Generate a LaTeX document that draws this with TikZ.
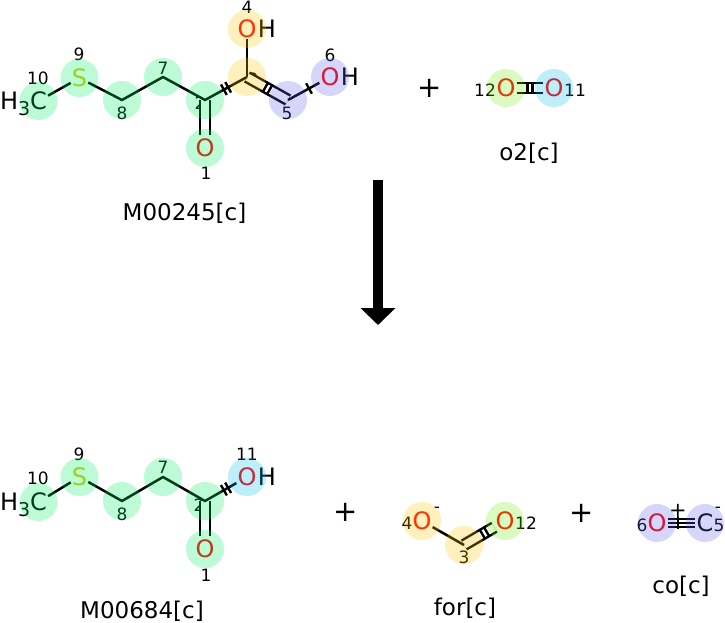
\documentclass[tikz,border=0pt]{standalone}
\usepackage{fontspec}
\setmainfont{DejaVu Sans}
\usetikzlibrary{arrows.meta,calc}
\definecolor{hgreen}{RGB}{0,236,96}
\definecolor{hyellow}{RGB}{255,196,0}
\definecolor{hlav}{RGB}{96,96,236}
\definecolor{hblue}{RGB}{0,188,236}
\definecolor{hlime}{RGB}{116,236,16}
\definecolor{ored}{RGB}{255,0,0}
\definecolor{sulf}{RGB}{204,204,0}
\newcommand\tickI{\rule{2.4pt}{12pt}}
\newcommand\tickII{\rule{2.4pt}{12pt}\hspace{2.5pt}\rule{2.4pt}{12pt}}
\newcommand\subthree{\raisebox{-6pt}{\fontsize{19}{19}\selectfont 3}}
\tikzset{
 atom/.style={inner sep=1pt, font=\fontsize{24}{24}\selectfont},
 oatom/.style={atom, text=ored},
 hyd/.style={anchor=base west, inner sep=0pt, font=\fontsize{24}{24}\selectfont},
 idx/.style={inner sep=0pt, font=\fontsize{17}{17}\selectfont},
 molname/.style={anchor=base, inner sep=0pt, font=\fontsize{23}{23}\selectfont},
 plussign/.style={inner sep=0pt, font=\fontsize{29}{29}\selectfont},
 charge/.style={inner sep=0pt, font=\fontsize{21}{21}\selectfont},
 bond/.style={line width=2.5pt, line join=round},
 dbond/.style={line width=2.5pt, double, double distance=7.5pt},
 tbond/.style={line width=2pt, double, double distance=5.4pt},
 tick/.style={sloped, inner sep=0pt, anchor=center},
 hl/.style={opacity=0.26},
}
\begin{document}
\begin{tikzpicture}[x=1pt,y=-1pt]
\useasboundingbox (0,0) rectangle (725,623);
% ================= top reactant M00245 =================
\node[idx] at (38,78) {10};
\node[idx] at (79,54) {9};
\node[idx] at (122,113) {8};
\node[idx] at (163,68) {7};
\node[idx] at (200,103) {2};
\node[idx] at (206,173) {1};
\node[idx] at (253,79) {3};
\node[idx] at (247,7) {4};
\node[idx] at (287,113) {5};
\node[idx] at (330,55) {6};
\node[atom] (tc10) at (38.5,101) {C};
\node[hyd, anchor=base east, xshift=1.5pt] (th10) at (tc10.base west) {H\subthree};
\node[oatom, text=sulf] (ts9) at (79.5,78) {S};
\coordinate (tc8) at (122,100);
\coordinate (tc7) at (163,77);
\coordinate (tc2) at (205,100);
\node[oatom] (to1) at (205,148) {O};
\coordinate (tc3) at (247,77);
\node[oatom] (to4) at (247,29) {O};
\node[hyd] (th4) at (to4.base east) {H};
\coordinate (tc5) at (288,100);
\node[oatom] (to6) at (330,77) {O};
\node[hyd] (th6) at (to6.base east) {H};
\draw[dbond, shorten >=3pt] (tc2) -- (to1);
\draw[dbond] (tc3) -- (tc5);
\draw[bond] (tc10) -- (ts9);
\draw[bond] (ts9) -- (tc8) -- (tc7) -- (tc2) -- (tc3);
\draw[bond] (tc3) -- (to4);
\draw[bond] (tc5) -- (to6);
\path (tc2) -- node[tick]{\tickII} (tc3);
\path (tc3) -- node[tick]{\tickII} (tc5);
\path (tc5) -- node[tick]{\tickI} (to6.center);
\node[molname] (tname) at (184.5,220) {M00245[c]};
\foreach \p in {tc10,ts9,tc8,tc7,tc2,to1} \fill[hgreen,hl] (\p) circle (19pt);
\foreach \p in {tc3,to4} \fill[hyellow,hl] (\p) circle (19pt);
\foreach \p in {tc5,to6} \fill[hlav,hl] (\p) circle (19pt);
% ================= o2 =================
\node[plussign] (p1) at (430,88) {+};
\node[idx] at (485,90) {12};
\node[idx] at (575,90) {11};
\node[oatom] (ao12) at (506,88) {O};
\node[oatom] (ao11) at (554,88) {O};
\draw[dbond] (ao12) -- (ao11);
\path (ao12.center) -- node[tick]{\tickII} (ao11.center);
\node[molname] (aname) at (529,160) {o2[c]};
\fill[hlime,hl] (ao12) circle (19pt);
\fill[hblue,hl] (ao11) circle (19pt);
% ================= reaction arrow =================
\coordinate (arS) at (378,180);
\coordinate (arE) at (378,325);
\draw[line width=10pt, -{Triangle[width=34pt,length=17pt]}] (arS) -- (arE);
% ================= product M00684 =================
\node[idx] at (38,478) {10};
\node[idx] at (79,454) {9};
\node[idx] at (122,514) {8};
\node[idx] at (163,467) {7};
\node[idx] at (199,505) {2};
\node[idx] at (206,575) {1};
\node[idx] at (247,454) {11};
\node[atom] (bc10) at (38.5,502) {C};
\node[hyd, anchor=base east, xshift=1.5pt] (bh10) at (bc10.base west) {H\subthree};
\node[oatom, text=sulf] (bs9) at (79.5,477) {S};
\coordinate (bc8) at (122,501);
\coordinate (bc7) at (163,477);
\coordinate (bc2) at (205,501);
\node[oatom] (bo1) at (205,549) {O};
\node[oatom] (bo11) at (247,477) {O};
\node[hyd] (bh11) at (bo11.base east) {H};
\draw[dbond, shorten >=3pt] (bc2) -- (bo1);
\draw[bond] (bc10) -- (bs9);
\draw[bond] (bs9) -- (bc8) -- (bc7) -- (bc2) -- (bo11);
\path (bc2) -- node[tick]{\tickII} (bo11.center);
\node[molname] (bname) at (142,618) {M00684[c]};
\foreach \p in {bc10,bs9,bc8,bc7,bc2,bo1} \fill[hgreen,hl] (\p) circle (19pt);
\fill[hblue,hl] (bo11) circle (19pt);
% ================= plus signs =================
\node[plussign] (p2) at (346,512) {+};
\node[plussign] (p3) at (582,513) {+};
% ================= for[c] =================
\node[idx] at (407,523) {4};
\node[idx] at (464,557) {3};
\node[idx] at (526,523) {12};
\node[idx] at (437,510) {-};
\node[oatom] (fo4) at (422,521) {O};
\coordinate (fc3) at (464,545);
\node[oatom] (fo12) at (505,521) {O};
\draw[dbond] (fc3) -- (fo12);
\draw[bond] (fo4) -- (fc3);
\path (fc3) -- node[tick]{\tickII} (fo12.center);
\node[molname] (fname) at (465,615) {for[c]};
\foreach \p in {fo4,fc3} \fill[hyellow,hl] (\p) circle (19pt);
\fill[hlime,hl] (fo12) circle (19pt);
% ================= co[c] =================
\node[idx] at (642,525) {6};
\node[idx] at (719,525) {5};
\node[charge] at (678,511) {+};
\node[idx] at (718,510) {-};
\node[oatom] (co6) at (657,523) {O};
\node[atom] (cc5) at (705,523) {C};
\draw[tbond] (co6) -- (cc5);
\draw[line width=2pt] (co6) -- (cc5);
\path (co6.center) -- node[tick, pos=0.44]{\tickI} (cc5.center);
\node[molname] (cname) at (681,593) {co[c]};
\foreach \p in {co6,cc5} \fill[hlav,hl] (\p) circle (19pt);
\end{tikzpicture}
\end{document}
